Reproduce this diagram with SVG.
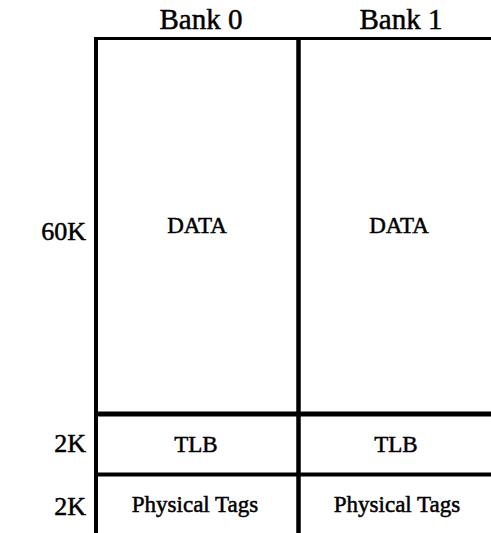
<svg xmlns="http://www.w3.org/2000/svg" width="491" height="533" viewBox="0 0 491 533">
<style>
text{font-family:"Liberation Serif","Times New Roman",serif;fill:#000;stroke:#000;stroke-width:0.5px;text-anchor:middle}
.hdr{font-size:29px}
.cell{font-size:23px}
.side{font-size:26px;text-anchor:end}
.ln{stroke:#000;fill:none}
</style>
<rect width="491" height="533" fill="#fff"/>
<g id="grid">
<line class="ln" x1="94" y1="38.5" x2="491" y2="38.5" stroke-width="3"/>
<line class="ln" x1="96" y1="37" x2="96" y2="533" stroke-width="4"/>
<line class="ln" x1="298.5" y1="37" x2="298.5" y2="533" stroke-width="4.5"/>
<line class="ln" x1="94" y1="414" x2="491" y2="414" stroke-width="5"/>
<line class="ln" x1="94" y1="474.5" x2="491" y2="474.5" stroke-width="4"/>
</g>
<g id="labels">
<text class="hdr" x="201" y="29">Bank 0</text>
<text class="hdr" x="401" y="29">Bank 1</text>
<text class="side" x="86" y="240">60K</text>
<text class="side" x="86" y="452">2K</text>
<text class="side" x="86" y="515">2K</text>
</g>
<g id="bank0-data"><text class="cell" x="197" y="233">DATA</text></g>
<g id="bank1-data"><text class="cell" x="399" y="233">DATA</text></g>
<g id="bank0-tlb"><text class="cell" x="196" y="452">TLB</text></g>
<g id="bank1-tlb"><text class="cell" x="396" y="452">TLB</text></g>
<g id="bank0-tags"><text class="cell" x="195" y="512">Physical Tags</text></g>
<g id="bank1-tags"><text class="cell" x="397" y="512">Physical Tags</text></g>
</svg>
